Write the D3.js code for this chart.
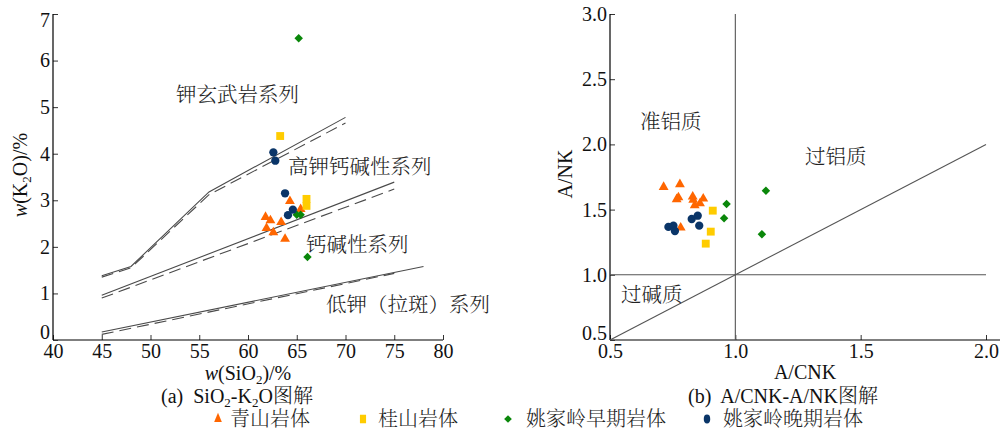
<!DOCTYPE html>
<html>
<head>
<meta charset="utf-8">
<script src="https://cdn.jsdelivr.net/npm/d3@7/dist/d3.min.js"></script>
<style>
  html, body { margin: 0; padding: 0; background: #fff; }
  svg { display: block; }
  .latin { font-family: "Liberation Serif", "Times New Roman", "Noto Sans CJK SC", serif; }
  .cjk { font-family: "Noto Serif CJK SC", "Noto Sans CJK SC", sans-serif; font-weight: 300; }
</style>
</head>
<body>
<svg id="chart" width="1003" height="430"></svg>
<script>
// ---------- (a) SiO2–K2O samples: [SiO2 %, K2O %] ----------
const qingshanA = [[61.8, 2.64], [62.3, 2.57], [61.9, 2.40], [62.6, 2.31], [63.4, 2.53], [63.8, 2.17], [64.3, 2.98], [65.4, 2.81]];
const guishanA = [[63.3, 4.38], [66.0, 3.03], [66.0, 2.88]];
const yaoEarlyA = [[65.2, 6.48], [66.1, 1.78], [65.0, 2.69], [65.4, 2.69]];
const yaoLateA = [[62.6, 4.03], [62.8, 3.85], [63.8, 3.15], [64.1, 2.68], [64.6, 2.80]];

// Series boundaries (solid + dashed variants)
const shoshoniteSolid = [[45, 1.38], [48, 1.58], [56, 3.18], [70, 4.78]];
const shoshoniteDashed = [[45, 1.35], [48, 1.55], [56, 3.12], [70, 4.66]];
const highKSolid = [[45, 0.96], [75, 3.39]];
const highKDashed = [[45, 0.90], [75, 3.24]];
const calcAlkSolid = [[45, 0.17], [78, 1.58]];
const calcAlkDashed = [[45, 0.12], [75, 1.43]];

const ticksSiO2 = [40, 45, 50, 55, 60, 65, 70, 75, 80];
const ticksK2O = [0, 1, 2, 3, 4, 5, 6, 7];

// ---------- (b) A/CNK–A/NK samples: [A/CNK, A/NK] ----------
const qingshanB = [[0.714, 1.673], [0.779, 1.694], [0.766, 1.579], [0.773, 1.594], [0.830, 1.599], [0.832, 1.574], [0.838, 1.533], [0.859, 1.548], [0.872, 1.584], [0.782, 1.361]];
const guishanB = [[0.910, 1.492], [0.902, 1.331], [0.882, 1.239]];
const yaoEarlyB = [[0.965, 1.543], [0.955, 1.433], [1.122, 1.645], [1.106, 1.311]];
const yaoLateB = [[0.733, 1.367], [0.753, 1.377], [0.759, 1.336], [0.826, 1.428], [0.850, 1.453], [0.856, 1.377]];

const ticksACNK = [0.5, 1.0, 1.5, 2.0];
const ticksANK = [0.5, 1.0, 1.5, 2.0, 2.5, 3.0];

// Field divisions in (b)
const ankDivideV = [[1.0, 0.5], [1.0, 3.0]];
const ankDivideH = [[0.5, 1.0], [2.0, 1.0]];
const ankDivideD = [[0.5, 0.5], [2.0, 2.0]];

// Legend
const legendNames = ["青山岩体", "桂山岩体", "姚家岭早期岩体", "姚家岭晚期岩体"];
const legendColors = ["#ff6600", "#ffcc00", "#0a870a", "#0a3568"];

// ---------- drawing ----------
const svg = d3.select("#chart");
svg.append("rect").attr("width", 1003).attr("height", 430).attr("fill", "#fff");

const xA = d3.scaleLinear([40, 80], [53, 443]);
const yA = d3.scaleLinear([0, 7], [340, 14]);
const xB = d3.scaleLinear([0.5, 2.0], [610, 986]);
const yB = d3.scaleLinear([0.5, 3.0], [340, 14]);

const symbols = [
  { type: d3.symbolTriangle, size: 42, rot: 0 },
  { type: d3.symbolSquare, size: 62, rot: 0 },
  { type: d3.symbolSquare, size: 36, rot: 45 },
  { type: d3.symbolCircle, size: 54, rot: 0 }
];

function axes(xs, ys, xTicks, yTicks, xFmt, yFmt, xEnd, yShift) {
  const gx = svg.append("g").attr("transform", `translate(0,${ys.range()[0]})`)
    .call(d3.axisBottom(xs).tickValues(xTicks).tickFormat(xFmt).tickSizeInner(-5).tickSizeOuter(0).tickPadding(4));
  gx.select(".domain").remove();
  gx.append("line").attr("x1", xs.range()[0]).attr("x2", xEnd).attr("stroke", "#000").attr("stroke-width", 1.2);
  const gy = svg.append("g").attr("transform", `translate(${xs.range()[0]},0)`)
    .call(d3.axisLeft(ys).tickValues(yTicks).tickFormat(yFmt).tickSizeInner(-5).tickSizeOuter(0).tickPadding(3));
  gy.select(".domain").remove();
  gy.append("line").attr("y1", ys.range()[0]).attr("y2", ys.range()[1]).attr("stroke", "#000").attr("stroke-width", 1.2);
  [gx, gy].forEach(g => {
    g.selectAll(".tick line").attr("stroke", "#333");
    g.selectAll(".tick text").attr("class", "latin").attr("font-size", 20).attr("fill", "#111").attr("font-family", null);
    g.attr("font-family", null).attr("font-size", null);
  });
  gy.selectAll(".tick text").attr("y", yShift);
}

function drawLine(xs, ys, pts, dashed, color, width) {
  svg.append("path")
    .attr("d", d3.line().x(d => xs(d[0])).y(d => ys(d[1]))(pts))
    .attr("fill", "none").attr("stroke", color).attr("stroke-width", width)
    .attr("stroke-dasharray", dashed ? "12,6" : null);
}

function drawPoints(xs, ys, data, i) {
  const s = symbols[i];
  svg.append("g").selectAll("path").data(data).join("path")
    .attr("d", d3.symbol().type(s.type).size(s.size))
    .attr("transform", d => `translate(${xs(d[0])},${ys(d[1])}) rotate(${s.rot})`)
    .attr("fill", legendColors[i]);
}

function cjkLabel(x, y, str, size) {
  svg.append("text").attr("class", "cjk").attr("x", x).attr("y", y)
    .attr("font-size", size || 20.5).attr("fill", "#222")
    .attr("dominant-baseline", "central").text(str);
}

// ---- panel (a)
axes(xA, yA, ticksSiO2, ticksK2O, d3.format("d"), d3.format("d"), xA(80),
  d => d === 7 ? 6 : d === 0 ? -8 : 0);

[[shoshoniteSolid, false], [shoshoniteDashed, true], [highKSolid, false], [highKDashed, true],
 [calcAlkSolid, false], [calcAlkDashed, true]].forEach(([pts, dash]) => drawLine(xA, yA, pts, dash, "#4a4a4a", 1.1));

cjkLabel(176, 93, "钾玄武岩系列");
cjkLabel(288, 165, "高钾钙碱性系列");
cjkLabel(306, 243, "钙碱性系列");
cjkLabel(326, 303, "低钾（拉斑）系列");

[qingshanA, guishanA, yaoEarlyA, yaoLateA].forEach((d, i) => drawPoints(xA, yA, d, i));

// y title: w(K2O)/%
const ytA = svg.append("text").attr("class", "latin").attr("font-size", 20).attr("fill", "#111")
  .attr("text-anchor", "middle").attr("transform", "translate(27,175) rotate(-90)");
ytA.append("tspan").attr("font-style", "italic").text("w");
ytA.append("tspan").text("(K");
ytA.append("tspan").attr("font-size", 13).attr("dy", 4).text("2");
ytA.append("tspan").attr("dy", -4).text("O)/%");

// x title: w(SiO2)/%
const xtA = svg.append("text").attr("class", "latin").attr("font-size", 20).attr("fill", "#111")
  .attr("text-anchor", "middle").attr("x", xA(60)).attr("y", 380);
xtA.append("tspan").attr("font-style", "italic").text("w");
xtA.append("tspan").text("(SiO");
xtA.append("tspan").attr("font-size", 13).attr("dy", 4).text("2");
xtA.append("tspan").attr("dy", -4).text(")/%");

// caption (a)
const capA = svg.append("text").attr("class", "latin").attr("font-size", 20).attr("fill", "#111")
  .attr("x", 161).attr("y", 403).attr("xml:space", "preserve");
capA.append("tspan").text("(a)  SiO");
capA.append("tspan").attr("font-size", 13).attr("dy", 4).text("2");
capA.append("tspan").attr("dy", -4).text("-K");
capA.append("tspan").attr("font-size", 13).attr("dy", 4).text("2");
capA.append("tspan").attr("dy", -4).text("O");
capA.append("tspan").attr("class", "cjk").text("图解");

// ---- panel (b)
axes(xB, yB, ticksACNK, ticksANK, d3.format(".1f"), d3.format(".1f"), 1000,
  d => d === 0.5 ? -7 : 0);

[ankDivideV, ankDivideH, ankDivideD].forEach(pts => drawLine(xB, yB, pts, false, "#555", 1.1));

cjkLabel(640, 120, "准铝质");
cjkLabel(805, 155, "过铝质");
cjkLabel(621, 293, "过碱质");

[qingshanB, guishanB, yaoEarlyB, yaoLateB].forEach((d, i) => drawPoints(xB, yB, d, i));

svg.append("text").attr("class", "latin").attr("font-size", 20).attr("fill", "#111")
  .attr("text-anchor", "middle").attr("transform", "translate(572,174) rotate(-90)").text("A/NK");
svg.append("text").attr("class", "latin").attr("font-size", 20).attr("fill", "#111")
  .attr("text-anchor", "middle").attr("x", 805).attr("y", 379).text("A/CNK");
const capB = svg.append("text").attr("class", "latin").attr("font-size", 20).attr("fill", "#111")
  .attr("x", 688).attr("y", 403).attr("xml:space", "preserve");
capB.append("tspan").text("(b)  A/CNK-A/NK");
capB.append("tspan").attr("class", "cjk").text("图解");

// ---- legend
const legendSymX = [218, 363, 508, 707];
const legendTextX = [230, 378, 526, 723];
legendNames.forEach((name, i) => {
  const s = symbols[i];
  svg.append("path")
    .attr("d", d3.symbol().type(s.type).size(s.size * 0.75))
    .attr("transform", `translate(${legendSymX[i]},419) rotate(${s.rot}) scale(${s.rot ? 1.05 : 0.9},${s.rot ? 1.05 : 1.25})`)
    .attr("fill", legendColors[i]);
  cjkLabel(legendTextX[i], 417, name, 20);
});
</script>
</body>
</html>
